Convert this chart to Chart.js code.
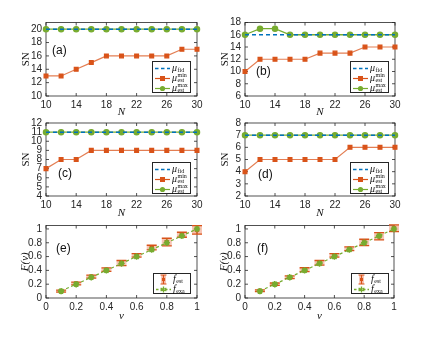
<!DOCTYPE html>
<html><head><meta charset="utf-8">
<script src="https://cdn.jsdelivr.net/npm/chart.js@4/dist/chart.umd.min.js"></script>
<style>
body{margin:0;width:422px;height:338px;background:#fff;position:relative;overflow:hidden;font-family:"Liberation Sans",Arial,sans-serif}
canvas{position:absolute}
.lab{position:absolute;font-size:12px;color:#111;line-height:14px}
.leg{position:absolute;background:#fff;border:0.8px solid #262626;box-sizing:border-box;font-family:"Liberation Serif","DejaVu Serif",serif;color:#111}
.row{position:absolute;left:2px;height:10px;display:flex;align-items:center}
.row svg{display:block;flex:none}
.t{font-size:10px;margin-left:2px;white-space:nowrap;display:flex;align-items:center;line-height:10px}
.ss{display:inline-flex;flex-direction:column;font-size:6px;line-height:5px;font-style:normal;margin-left:0.5px}
.sb{font-size:6px;font-style:normal;position:relative;top:2px;margin-left:0.5px}
</style></head><body>
<canvas id="ca"></canvas><canvas id="cb"></canvas><canvas id="cc"></canvas>
<canvas id="cd"></canvas><canvas id="ce"></canvas><canvas id="cf"></canvas>
<div class="lab" style="left:52px;top:43px">(a)</div>
<div class="lab" style="left:256px;top:64px">(b)</div>
<div class="lab" style="left:58px;top:166px">(c)</div>
<div class="lab" style="left:258px;top:167px">(d)</div>
<div class="lab" style="left:56px;top:241px">(e)</div>
<div class="lab" style="left:257px;top:241px">(f)</div>
<div id="legs"></div>
<script>
// ---------- data ----------
const N = [10, 12, 14, 16, 18, 20, 22, 24, 26, 28, 30];
const nTicks = [10, 14, 18, 22, 26, 30];

const aFid = [20, 20, 20, 20, 20, 20, 20, 20, 20, 20, 20];
const aMin = [13, 13, 14, 15, 16, 16, 16, 16, 16, 17, 17];
const aMax = [20, 20, 20, 20, 20, 20, 20, 20, 20, 20, 20];
const aTicks = [10, 12, 14, 16, 18, 20];

const bFid = [16, 16, 16, 16, 16, 16, 16, 16, 16, 16, 16];
const bMin = [10, 12, 12, 12, 12, 13, 13, 13, 14, 14, 14];
const bMax = [16, 17, 17, 16, 16, 16, 16, 16, 16, 16, 16];
const bTicks = [6, 8, 10, 12, 14, 16, 18];

const cFid = [11, 11, 11, 11, 11, 11, 11, 11, 11, 11, 11];
const cMin = [7, 8, 8, 9, 9, 9, 9, 9, 9, 9, 9];
const cMax = [11, 11, 11, 11, 11, 11, 11, 11, 11, 11, 11];
const cTicks = [4, 5, 6, 7, 8, 9, 10, 11, 12];

const dFid = [7, 7, 7, 7, 7, 7, 7, 7, 7, 7, 7];
const dMin = [4, 5, 5, 5, 5, 5, 5, 6, 6, 6, 6];
const dMax = [7, 7, 7, 7, 7, 7, 7, 7, 7, 7, 7];
const dTicks = [2, 3, 4, 5, 6, 7, 8];

const v = [0.1, 0.2, 0.3, 0.4, 0.5, 0.6, 0.7, 0.8, 0.9, 1.0];
const vTicks = [0, 0.2, 0.4, 0.6, 0.8, 1];
const FTicks = [0, 0.2, 0.4, 0.6, 0.8, 1];

const eEst = [0.10, 0.21, 0.31, 0.41, 0.506, 0.618, 0.73, 0.81, 0.916, 0.986];
const eErr = [0.014, 0.02, 0.022, 0.025, 0.037, 0.026, 0.034, 0.055, 0.036, 0.062];
const eExa = [0.1, 0.2, 0.3, 0.4, 0.5, 0.6, 0.7, 0.8, 0.9, 1.0];

const fEst = [0.105, 0.20, 0.30, 0.41, 0.51, 0.618, 0.713, 0.805, 0.894, 1.01];
const fErr = [0.012, 0.017, 0.02, 0.028, 0.033, 0.026, 0.027, 0.046, 0.053, 0.048];
const fExa = [0.1, 0.2, 0.3, 0.4, 0.5, 0.6, 0.7, 0.8, 0.9, 1.0];

// ---------- style ----------
const BLUE = '#0072BD', ORANGE = '#D95319', GREEN = '#77AC30', AX = '#262626';
const tickFont = {family: '"Liberation Sans", Arial, sans-serif', size: 10};
const titleFont = {family: '"Liberation Serif", "Times New Roman", serif', size: 11};
const titleFontI = {family: '"Liberation Serif", "Times New Roman", serif', size: 11, style: 'italic'};

const framePlugin = {
  id: 'frame',
  beforeDatasetsDraw(chart) {
    const {ctx, chartArea: a, scales: {x, y}} = chart;
    ctx.save();
    ctx.strokeStyle = AX; ctx.lineWidth = 0.8;
    ctx.strokeRect(a.left, a.top, a.right - a.left, a.bottom - a.top);
    const L = 3;
    ctx.beginPath();
    x.ticks.forEach(t => {
      const p = x.getPixelForValue(t.value);
      ctx.moveTo(p, a.bottom); ctx.lineTo(p, a.bottom - L);
      ctx.moveTo(p, a.top); ctx.lineTo(p, a.top + L);
    });
    y.ticks.forEach(t => {
      const p = y.getPixelForValue(t.value);
      ctx.moveTo(a.left, p); ctx.lineTo(a.left + L, p);
      ctx.moveTo(a.right, p); ctx.lineTo(a.right - L, p);
    });
    ctx.stroke();
    ctx.restore();
  }
};

const errPlugin = {
  id: 'errbars',
  beforeDatasetsDraw(chart) {
    const {ctx, scales: {x, y}} = chart;
    chart.data.datasets.forEach(ds => {
      if (!ds.errors) return;
      ds.data.forEach((pt, i) => {
        const px = x.getPixelForValue(pt.x);
        const hi = y.getPixelForValue(pt.y + ds.errors[i]);
        const lo = y.getPixelForValue(pt.y - ds.errors[i]);
        ctx.save();
        ctx.fillStyle = 'rgba(240,150,120,0.55)';
        ctx.fillRect(px - 5, hi, 10, lo - hi);
        ctx.strokeStyle = ORANGE; ctx.lineWidth = 1.3;
        ctx.beginPath();
        ctx.moveTo(px - 5, hi); ctx.lineTo(px + 5, hi);
        ctx.moveTo(px - 5, lo); ctx.lineTo(px + 5, lo);
        ctx.moveTo(px, hi); ctx.lineTo(px, lo);
        ctx.stroke();
        ctx.restore();
      });
    });
  }
};

function pts(xs, ys) { return xs.map((xv, i) => ({x: xv, y: ys[i]})); }

function place(id, box) {
  const c = document.getElementById(id);
  c.width = box.cw; c.height = box.ch;
  c.style.left = box.cx + 'px'; c.style.top = box.cy + 'px';
  c.style.width = box.cw + 'px'; c.style.height = box.ch + 'px';
  return c;
}

function scalesFor(box, xr, xTicks, yr, yTicks, xTitle, yTitle, yTitleItalic) {
  return {
    x: {
      type: 'linear', min: xr[0], max: xr[1],
      afterBuildTicks: s => { s.ticks = xTicks.map(val => ({value: val})); },
      afterFit: s => { s.height = box.cy + box.ch - box.pb; },
      grid: {display: false, drawTicks: false},
      border: {display: false},
      ticks: {font: tickFont, color: AX, padding: 3, maxRotation: 0, autoSkip: false,
              callback: val => String(val)},
      title: {display: true, text: xTitle, font: titleFontI, color: '#111', padding: {top: 0, bottom: 0}}
    },
    y: {
      type: 'linear', min: yr[0], max: yr[1],
      afterBuildTicks: s => { s.ticks = yTicks.map(val => ({value: val})); },
      afterFit: s => { s.width = box.pl - box.cx; },
      grid: {display: false, drawTicks: false},
      border: {display: false},
      ticks: {font: tickFont, color: AX, padding: 4, autoSkip: false,
              callback: val => String(val)},
      title: {display: true, text: yTitle, font: yTitleItalic ? titleFontI : titleFont, color: '#111',
              padding: {top: box.ytx - box.cx - 6.6, bottom: 0}}
    }
  };
}

function snChart(id, box, fid, mn, mx, yr, yTicks) {
  const c = place(id, box);
  return new Chart(c, {
    type: 'line',
    data: {datasets: [
      {label: 'μfid', data: pts(N, fid), borderColor: BLUE, borderWidth: 1.5, borderDash: [4, 3],
       pointRadius: 0, order: 0, clip: false},
      {label: 'μest max', data: pts(N, mx), borderColor: GREEN, borderWidth: 1.3, clip: false,
       pointStyle: 'circle', pointRadius: 2.6, pointBackgroundColor: GREEN, pointBorderColor: GREEN, order: 1},
      {label: 'μest min', data: pts(N, mn), borderColor: 'rgba(217,83,25,0.75)', borderWidth: 1.2, clip: false,
       pointStyle: 'rect', pointRadius: 2.7, pointBackgroundColor: ORANGE, pointBorderColor: ORANGE, order: 2}
    ]},
    options: {
      responsive: false, animation: false, devicePixelRatio: 1,
      layout: {padding: {left: 0, top: box.pt - box.cy, right: box.cx + box.cw - box.pr, bottom: 0}},
      plugins: {legend: {display: false}, tooltip: {enabled: false}},
      elements: {line: {tension: 0}},
      scales: scalesFor(box, [10, 30], nTicks, yr, yTicks, 'N', 'SN', false)
    },
    plugins: [framePlugin]
  });
}

function fChart(id, box, est, err, exa) {
  const c = place(id, box);
  return new Chart(c, {
    type: 'line',
    data: {datasets: [
      {label: 'fexa', data: pts(v, exa), borderColor: GREEN, borderWidth: 1.2, borderDash: [3, 2.5], clip: false,
       pointStyle: 'star', pointRadius: 3.2, pointBorderWidth: 1.6, pointBorderColor: GREEN,
       pointBackgroundColor: GREEN, order: 0},
      {label: 'fest', data: pts(v, est), errors: err, showLine: false, pointStyle: 'rect', clip: false,
       pointRadius: 2.4, pointBackgroundColor: ORANGE, pointBorderColor: ORANGE, order: 1}
    ]},
    options: {
      responsive: false, animation: false, devicePixelRatio: 1,
      layout: {padding: {left: 0, top: box.pt - box.cy, right: box.cx + box.cw - box.pr, bottom: 0}},
      plugins: {legend: {display: false}, tooltip: {enabled: false}},
      elements: {line: {tension: 0}},
      scales: scalesFor(box, [0, 1], vTicks, [0, 1.05], FTicks, 'v', 'F(v)', true)
    },
    plugins: [framePlugin, errPlugin]
  });
}

// boxes: canvas position/size, plot edges, y-title centre x
const boxA = {cx: 0, cy: 0, cw: 211, ch: 119, pl: 46, pr: 197, pt: 22.5, pb: 96, ytx: 26};
const boxB = {cx: 211, cy: 0, cw: 211, ch: 119, pl: 245, pr: 395, pt: 22.5, pb: 96, ytx: 225};
const boxC = {cx: 0, cy: 100, cw: 211, ch: 120, pl: 46, pr: 197, pt: 123, pb: 196, ytx: 26};
const boxD = {cx: 211, cy: 100, cw: 211, ch: 120, pl: 245, pr: 395, pt: 123, pb: 196, ytx: 225};
const boxE = {cx: 0, cy: 200, cw: 211, ch: 123, pl: 46, pr: 197, pt: 225.5, pb: 298, ytx: 25};
const boxF = {cx: 211, cy: 200, cw: 211, ch: 123, pl: 245, pr: 394, pt: 225.5, pb: 298, ytx: 224};

snChart('ca', boxA, aFid, aMin, aMax, [10, 21], aTicks);
snChart('cb', boxB, bFid, bMin, bMax, [6, 18], bTicks);
snChart('cc', boxC, cFid, cMin, cMax, [4, 12], cTicks);
snChart('cd', boxD, dFid, dMin, dMax, [2, 8], dTicks);
fChart('ce', boxE, eEst, eErr, eExa);
fChart('cf', boxF, fEst, fErr, fExa);

// ---------- legends (HTML overlays) ----------
const svgLine = (col, dash, marker) => {
  let m = '';
  if (marker === 'rect') m = `<rect x="5" y="3" width="5" height="5" fill="${col}"/>`;
  if (marker === 'circle') m = `<circle cx="7.5" cy="5.5" r="2.6" fill="${col}"/>`;
  if (marker === 'star') m = `<path d="M7.5 2.5 L7.5 8.5 M4.6 4 L10.4 7 M4.6 7 L10.4 4" stroke="${col}" stroke-width="1.4"/>`;
  return `<svg width="15" height="11"><line x1="0" y1="5.5" x2="15" y2="5.5" stroke="${col}" stroke-width="${dash ? 1.4 : 1.2}" ${dash ? 'stroke-dasharray="' + dash + '"' : ''}/>${m}</svg>`;
};
const svgErr = `<svg width="15" height="11"><rect x="5" y="1" width="5" height="9" fill="rgba(240,150,120,0.55)"/><path d="M4.5 1 H10.5 M4.5 10 H10.5 M7.5 1 V10" stroke="${ORANGE}" stroke-width="1.2"/><rect x="6" y="4" width="3" height="3" fill="${ORANGE}"/></svg>`;

function snLegend(left, top) {
  return `<div class="leg" style="left:${left}px;top:${top}px;width:39px;height:32px">
   <div class="row" style="top:1px">${svgLine(BLUE, '3.5,2.5', null)}<span class="t"><i>μ</i><span class="sb">fid</span></span></div>
   <div class="row" style="top:11px">${svgLine(ORANGE, null, 'rect')}<span class="t"><i>μ</i><span class="ss"><span>min</span><span>est</span></span></span></div>
   <div class="row" style="top:21px">${svgLine(GREEN, null, 'circle')}<span class="t"><i>μ</i><span class="ss"><span>max</span><span>est</span></span></span></div>
  </div>`;
}
function fLegend(left, top) {
  return `<div class="leg" style="left:${left}px;top:${top}px;width:38px;height:21px">
   <div class="row" style="top:0px">${svgErr}<span class="t"><i>f</i><span class="sb">est</span></span></div>
   <div class="row" style="top:10px">${svgLine(GREEN, '2.5,2', 'star')}<span class="t"><i>f</i><span class="sb">exa</span></span></div>
  </div>`;
}
document.getElementById('legs').innerHTML =
  snLegend(152, 61) + snLegend(350, 61) + snLegend(152, 162) + snLegend(350, 162) +
  fLegend(153, 273) + fLegend(351, 273);
</script>
</body></html>
